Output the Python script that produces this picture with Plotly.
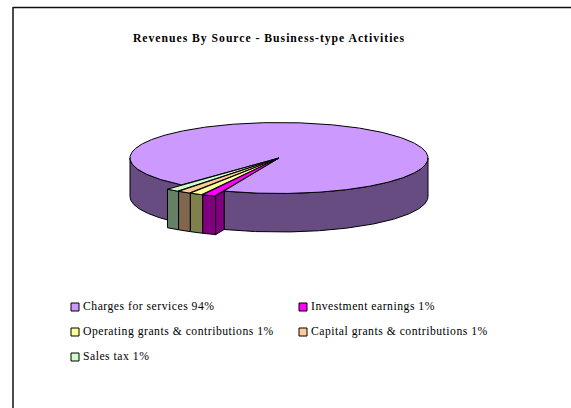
import numpy as np
import plotly.graph_objects as go

# Revenue shares, percent of total
sources = ["Charges for services", "Investment earnings",
           "Operating grants & contributions", "Capital grants & contributions",
           "Sales tax"]
shares = [94.4, 1.3, 1.3, 1.3, 1.3]
top_colors = ["#CC99FF", "#FF00FF", "#FFFF99", "#FFCC99", "#CCFFCC"]
side_colors = ["#664C80", "#800080", "#80804C", "#80664C", "#668066"]
title = "Revenues By Source - Business-type Activities"

# Projection of the tilted disc onto the page, in pixels
CX, CY, RX, RY, DEPTH = 279, 158, 149, 35.5, 38.5
PULL = 1.155         # outer radius of the small slices relative to the disc
FIRST_END = 111.6    # angle where the large slice ends, clockwise from east
FONT = "Liberation Serif"


def project(radius, deg, drop=0.0):
    a = np.radians(deg)
    return CX + RX * radius * np.cos(a), CY + RY * radius * np.sin(a) + drop


def arc(radius, start, end, drop=0.0):
    return project(radius, np.linspace(start, end, max(int(abs(end - start)) * 2, 12)), drop)


def face(x, y, fill, layer_name):
    return go.Scatter(x=list(x), y=list(y), mode="lines", fill="toself", fillcolor=fill,
                      line=dict(color="black", width=1), hoverinfo="skip",
                      showlegend=False, name=layer_name)


def wall(radius, start, end, fill, layer_name):
    tx, ty = arc(radius, start, end)
    bx, by = arc(radius, end, start, DEPTH)
    return face(np.r_[tx, bx, tx[0]], np.r_[ty, by, ty[0]], fill, layer_name)


fig = go.Figure()

# Slice angles: the small slices run clockwise from the end of the large one
spans = [v / sum(shares) * 360 for v in shares]
bounds = [FIRST_END]
for span in spans[1:]:
    bounds.append(bounds[-1] + span)
large_start = bounds[-1]

# Rim of the large slice, left and right of the notch
fig.add_trace(wall(1, large_start, 180, side_colors[0], "rim left"))
fig.add_trace(wall(1, 0, FIRST_END, side_colors[0], "rim right"))

# Top of the large slice
tx, ty = arc(1, large_start, FIRST_END + 360)
fig.add_trace(face(np.r_[CX, tx, CX], np.r_[CY, ty, CY], top_colors[0], sources[0]))

# Rims of the small slices, back to front
for i in range(4, 0, -1):
    fig.add_trace(wall(PULL, bounds[i - 1], bounds[i], side_colors[i], sources[i] + " rim"))

# Exposed cut face of the first small slice
x0, y0 = project(PULL, FIRST_END)
x1, y1 = project(1, FIRST_END)
fig.add_trace(face([x0, x1, x1, x0, x0], [y0, y1, y1 + DEPTH, y0 + DEPTH, y0],
                   side_colors[1], "cut face"))

# Tops of the small slices
for i in range(4, 0, -1):
    tx, ty = arc(PULL, bounds[i - 1], bounds[i])
    fig.add_trace(face(np.r_[CX, tx, CX], np.r_[CY, ty, CY], top_colors[i], sources[i]))

# Legend laid out in two columns
legend_x = [75, 303, 75, 303, 75]
legend_y = [307, 307, 332, 332, 357]
for i, name in enumerate(sources):
    fig.add_trace(go.Scatter(
        x=[legend_x[i]], y=[legend_y[i]], mode="markers+text",
        marker=dict(symbol="square", size=8, color=top_colors[i],
                    line=dict(color="black", width=1)),
        text=[f"{name} {round(shares[i])}%"], textposition="middle right",
        textfont=dict(family=FONT, size=11.7, color="black"),
        hoverinfo="skip", showlegend=False))

fig.update_layout(
    width=571, height=408, autosize=False,
    margin=dict(l=0, r=0, t=0, b=0),
    paper_bgcolor="white", plot_bgcolor="white",
    xaxis=dict(range=[0, 571], visible=False, fixedrange=True),
    yaxis=dict(range=[408, 0], visible=False, fixedrange=True),
    annotations=[dict(x=269, y=38.5, xref="x", yref="y", text=f"<b>{title}</b>",
                      showarrow=False, font=dict(family=FONT, size=11.7, color="black"))],
    # Chart frame, running off the right and bottom of the page
    shapes=[
        dict(type="line", x0=13, x1=13, y0=7, y1=408, line=dict(color="#111111", width=1.5)),
        dict(type="line", x0=13, x1=571, y0=7.5, y1=7.5, line=dict(color="#111111", width=1.5)),
    ],
)

# Wider tracking on the title and legend text
tracking = """
document.querySelectorAll('.textpoint text').forEach(function (t) {
  t.style.letterSpacing = '0.5px';
  t.setAttribute('dx', '2');
});
document.querySelectorAll('.annotation-text').forEach(function (t) {
  t.style.letterSpacing = '0.98px';
});
"""

fig.write_html("out.html", config=dict(displayModeBar=False), post_script=tracking)
